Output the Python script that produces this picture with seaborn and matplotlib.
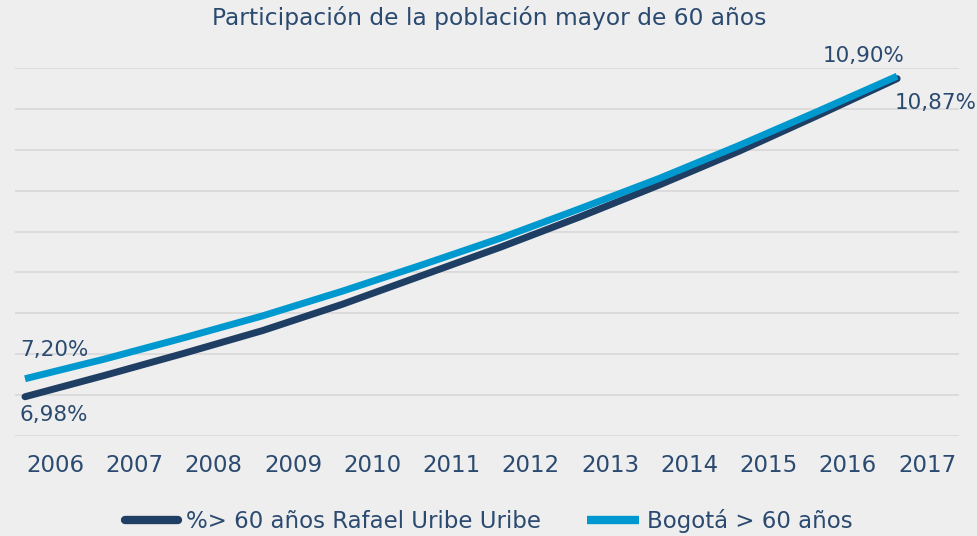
import matplotlib
matplotlib.use("Agg")
import matplotlib.pyplot as plt
import seaborn as sns
import pandas as pd
from matplotlib.lines import Line2D

# ---- data ----
years = ["2006", "2007", "2008", "2009", "2010", "2011",
         "2012", "2013", "2014", "2015", "2016", "2017"]
rafael = [6.98, 7.24, 7.51, 7.79, 8.11, 8.46, 8.81, 9.18, 9.57, 9.98, 10.42, 10.87]
bogota = [7.20, 7.44, 7.70, 7.97, 8.27, 8.59, 8.92, 9.28, 9.65, 10.05, 10.47, 10.90]
series_names = ["%> 60 años Rafael Uribe Uribe", "Bogotá > 60 años"]
title = "Participación de la población mayor de 60 años"

BG = "#eeeeee"
TXT = "#2b4a70"
DARK = "#1f3e64"
LIGHT = "#0099cf"
GRID = "#d9d9d9"

df = pd.DataFrame({
    "idx": list(range(len(years))) * 2,
    "value": rafael + bogota,
    "serie": [series_names[0]] * len(years) + [series_names[1]] * len(years),
})

sns.set_theme(style="white")
plt.rcParams["font.family"] = ["DejaVu Sans"]

fig = plt.figure(figsize=(9.78, 5.36), dpi=100, facecolor=BG)
ax = fig.add_axes([15 / 978, 1 - 436 / 536, (959 - 15) / 978, (436 - 68) / 536])
ax.set_facecolor(BG)

sns.lineplot(data=df, x="idx", y="value", hue="serie", hue_order=series_names,
             palette={series_names[0]: DARK, series_names[1]: LIGHT},
             linewidth=5.0, ax=ax, legend=False, sort=False)
ax.lines[0].set_solid_capstyle("round")
ax.lines[1].set_solid_capstyle("butt")
ax.lines[0].set_solid_joinstyle("round")
ax.lines[1].set_solid_joinstyle("round")

ax.set_xlim(-0.126, 11.78)
ax.set_ylim(6.5, 11.0)
ax.set_yticks([6.5 + 0.5 * k for k in range(10)])
ax.set_yticklabels([])
ax.tick_params(axis="y", length=0)
ax.grid(axis="y", color=GRID, linewidth=1.3)
ax.grid(axis="x", visible=False)
ax.set_axisbelow(True)
for s in ax.spines.values():
    s.set_visible(False)

ax.set_xticks([i + 0.38 for i in range(len(years))])
ax.set_xticklabels(years, fontsize=16.5, color=TXT)
ax.tick_params(axis="x", length=0, pad=13)
ax.set_xlabel("")
ax.set_ylabel("")

fig.text(0.5, 1 - 18 / 536, title, ha="center", va="center", fontsize=16.8, color=TXT)

def fmt(v):
    return f"{v:.2f}".replace(".", ",") + "%"

lab = dict(fontsize=15.5, color=TXT, textcoords="offset pixels")
ax.annotate(fmt(bogota[0]), (0, bogota[0]), xytext=(-5, 29), ha="left", va="center", **lab)
ax.annotate(fmt(rafael[0]), (0, rafael[0]), xytext=(-5, -18), ha="left", va="center", **lab)
ax.annotate(fmt(bogota[-1]), (11, bogota[-1]), xytext=(-34, 20), ha="center", va="center", **lab)
ax.annotate(fmt(rafael[-1]), (11, rafael[-1]), xytext=(-2, -24), ha="left", va="center", **lab)

handles = [Line2D([0], [0], color=DARK, linewidth=6, solid_capstyle="round"),
           Line2D([0], [0], color=LIGHT, linewidth=6, solid_capstyle="butt")]
leg = fig.legend(handles, series_names, loc="center", bbox_to_anchor=(0.5, 1 - 521 / 536),
                 ncol=2, frameon=False, fontsize=16.5, handlelength=2.3,
                 handletextpad=0.35, columnspacing=2.0, labelcolor=TXT)

fig.savefig("out.png", dpi=100, facecolor=BG)
